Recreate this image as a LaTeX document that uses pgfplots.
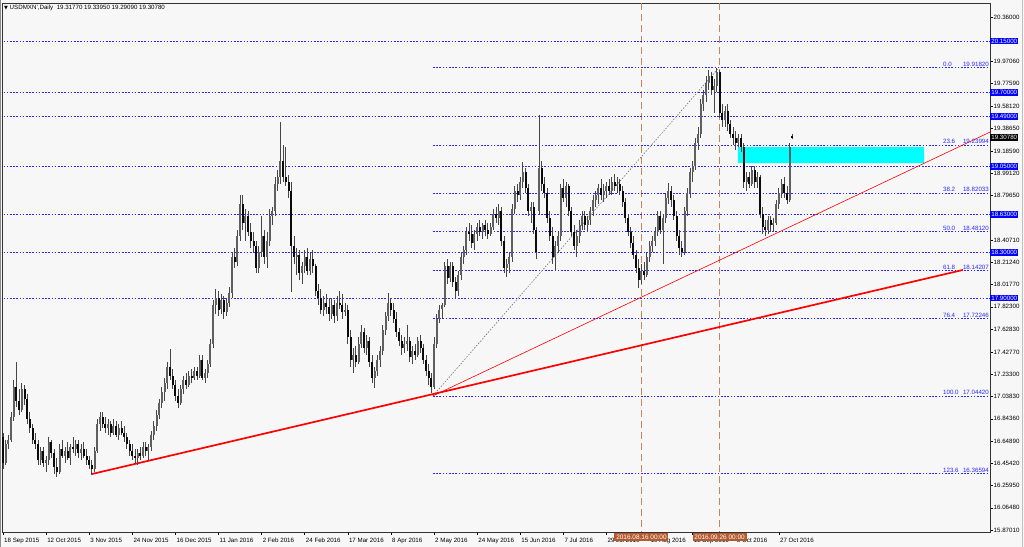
\documentclass[border=0pt]{standalone}
\usepackage{fontspec}
\setmainfont{Liberation Sans}
\newfontfamily\dejavu{DejaVu Sans}
\usepackage{pgfplots}
\usepackage{pgfplotstable}
\pgfplotsset{compat=1.18}
\definecolor{bg}{RGB}{247,247,247}
\definecolor{lvl}{RGB}{40,40,255}
\definecolor{colVline}{RGB}{200,132,92}
\definecolor{colVbox}{RGB}{180,90,45}
\definecolor{colBull}{RGB}{95,95,95}
\definecolor{colBear}{RGB}{10,10,10}
\definecolor{colWick}{RGB}{70,70,70}
\definecolor{colZone}{RGB}{0,255,255}
\definecolor{colBlueBox}{RGB}{0,0,255}
\definecolor{colRed}{RGB}{255,0,0}
\newcommand\sm{\fontsize{6.2}{7}\selectfont}

\pgfplotstableread{
o h l c
16.68 16.72 16.40 16.46
16.46 16.66 16.44 16.62
16.62 16.70 16.58 16.66
16.66 16.90 16.64 16.86
16.86 17.18 16.82 17.12
17.12 17.34 16.95 17.00
17.00 17.10 16.88 16.92
16.92 17.16 16.90 17.10
17.10 17.14 16.96 17.02
17.02 17.06 16.80 16.84
16.84 16.90 16.72 16.76
16.76 16.80 16.62 16.66
16.66 16.72 16.58 16.62
16.62 16.66 16.44 16.48
16.48 16.60 16.44 16.56
16.56 16.60 16.42 16.46
16.46 16.52 16.38 16.48
16.48 16.68 16.44 16.64
16.64 16.66 16.50 16.54
16.54 16.58 16.36 16.42
16.42 16.50 16.33 16.38
16.38 16.62 16.36 16.58
16.58 16.66 16.50 16.52
16.52 16.60 16.46 16.56
16.56 16.64 16.48 16.50
16.50 16.62 16.44 16.60
16.60 16.68 16.54 16.58
16.58 16.66 16.52 16.62
16.62 16.66 16.50 16.54
16.54 16.62 16.48 16.58
16.58 16.64 16.50 16.52
16.52 16.58 16.44 16.48
16.48 16.52 16.40 16.44
16.44 16.48 16.35 16.40
16.40 16.60 16.38 16.56
16.56 16.84 16.54 16.80
16.80 16.90 16.74 16.86
16.86 16.90 16.76 16.80
16.80 16.86 16.72 16.76
16.76 16.84 16.70 16.80
16.80 16.82 16.68 16.72
16.72 16.84 16.70 16.78
16.78 16.82 16.68 16.70
16.70 16.80 16.66 16.76
16.76 16.82 16.70 16.72
16.72 16.78 16.64 16.68
16.68 16.72 16.58 16.62
16.62 16.66 16.52 16.56
16.56 16.62 16.48 16.52
16.52 16.58 16.46 16.50
16.50 16.58 16.44 16.54
16.54 16.60 16.48 16.52
16.52 16.64 16.50 16.60
16.60 16.64 16.52 16.56
16.56 16.62 16.48 16.60
16.60 16.74 16.56 16.70
16.70 16.82 16.66 16.78
16.78 16.92 16.74 16.88
16.88 17.02 16.84 16.98
16.98 17.12 16.94 17.08
17.08 17.20 17.00 17.16
17.16 17.34 17.10 17.30
17.30 17.45 17.18 17.22
17.22 17.28 17.10 17.14
17.14 17.18 17.00 17.04
17.04 17.10 16.94 16.98
16.98 17.14 16.96 17.10
17.10 17.22 17.06 17.18
17.18 17.24 17.10 17.14
17.14 17.26 17.12 17.22
17.22 17.28 17.16 17.20
17.20 17.30 17.18 17.26
17.26 17.30 17.18 17.22
17.22 17.40 17.20 17.36
17.36 17.40 17.18 17.20
17.20 17.28 17.16 17.24
17.24 17.36 17.20 17.32
17.32 17.54 17.30 17.50
17.50 17.88 17.46 17.84
17.84 17.98 17.76 17.90
17.90 17.96 17.74 17.80
17.80 17.94 17.76 17.88
17.88 17.92 17.72 17.78
17.78 17.90 17.74 17.86
17.86 18.00 17.82 17.94
17.94 18.30 17.90 18.26
18.26 18.34 18.16 18.22
18.22 18.50 18.18 18.44
18.44 18.80 18.40 18.72
18.72 18.80 18.50 18.56
18.56 18.68 18.40 18.62
18.62 18.66 18.44 18.48
18.48 18.56 18.34 18.40
18.40 18.48 18.30 18.36
18.36 18.40 18.12 18.16
18.16 18.36 18.12 18.30
18.30 18.62 18.26 18.44
18.44 18.50 18.20 18.26
18.26 18.48 18.16 18.40
18.40 18.68 18.36 18.62
18.62 18.70 18.54 18.66
18.66 18.96 18.62 18.90
18.90 19.02 18.84 18.96
18.96 19.44 18.90 19.10
19.10 19.24 18.92 18.96
18.96 19.22 18.88 18.92
18.92 18.98 18.78 18.84
18.84 18.92 17.95 18.36
18.36 18.44 18.20 18.26
18.26 18.34 18.10 18.28
18.28 18.32 18.06 18.12
18.12 18.22 18.02 18.18
18.18 18.32 18.12 18.26
18.26 18.34 18.10 18.14
18.14 18.30 18.10 18.24
18.24 18.32 18.12 18.18
18.18 18.20 17.92 17.96
17.96 18.02 17.84 17.90
17.90 17.98 17.76 17.80
17.80 17.92 17.74 17.86
17.86 17.94 17.76 17.82
17.82 17.90 17.70 17.76
17.76 17.90 17.72 17.84
17.84 17.88 17.68 17.74
17.74 17.92 17.70 17.86
17.86 17.96 17.80 17.84
17.84 17.94 17.72 17.78
17.78 17.86 17.74 17.80
17.80 17.84 17.50 17.56
17.56 17.62 17.30 17.36
17.36 17.46 17.24 17.40
17.40 17.48 17.30 17.34
17.34 17.56 17.32 17.50
17.50 17.66 17.46 17.60
17.60 17.64 17.42 17.46
17.46 17.58 17.40 17.52
17.52 17.56 17.30 17.34
17.34 17.40 17.16 17.20
17.20 17.30 17.11 17.26
17.26 17.40 17.22 17.36
17.36 17.48 17.30 17.44
17.44 17.66 17.40 17.62
17.62 17.78 17.58 17.74
17.74 17.94 17.70 17.86
17.86 17.90 17.74 17.80
17.80 17.86 17.68 17.72
17.72 17.78 17.56 17.60
17.60 17.64 17.48 17.52
17.52 17.58 17.40 17.46
17.46 17.56 17.42 17.50
17.50 17.66 17.44 17.52
17.52 17.56 17.34 17.38
17.38 17.48 17.32 17.44
17.44 17.50 17.36 17.40
17.40 17.56 17.38 17.52
17.52 17.58 17.42 17.46
17.46 17.50 17.32 17.36
17.36 17.40 17.22 17.26
17.26 17.32 17.14 17.20
17.20 17.24 17.07 17.12
17.12 17.56 17.10 17.50
17.50 17.76 17.46 17.72
17.72 17.84 17.68 17.80
17.80 17.86 17.72 17.84
17.84 18.22 17.82 18.18
18.18 18.24 18.02 18.08
18.08 18.22 18.04 18.18
18.18 18.22 18.00 18.04
18.04 18.08 17.90 17.96
17.96 18.14 17.92 18.10
18.10 18.30 18.06 18.26
18.26 18.36 18.20 18.32
18.32 18.52 18.28 18.48
18.48 18.56 18.40 18.46
18.46 18.54 18.34 18.38
18.38 18.50 18.32 18.46
18.46 18.56 18.40 18.52
18.52 18.58 18.44 18.48
18.48 18.56 18.42 18.54
18.54 18.58 18.44 18.50
18.50 18.56 18.42 18.46
18.46 18.56 18.44 18.52
18.52 18.68 18.50 18.64
18.64 18.70 18.56 18.60
18.60 18.72 18.54 18.66
18.66 18.70 18.36 18.40
18.40 18.44 18.12 18.16
18.16 18.24 18.08 18.20
18.20 18.30 18.12 18.26
18.26 18.72 18.22 18.68
18.68 18.88 18.64 18.84
18.84 18.90 18.74 18.80
18.80 18.96 18.76 18.92
18.92 19.09 18.86 19.00
19.00 19.04 18.82 18.86
18.86 18.90 18.62 18.66
18.66 18.74 18.56 18.70
18.70 18.74 18.46 18.50
18.50 18.52 18.24 18.30
18.66 19.50 18.64 19.04
19.04 19.10 18.84 18.90
18.90 18.96 18.78 18.82
18.82 18.86 18.56 18.60
18.60 18.66 18.40 18.44
18.44 18.52 18.20 18.26
18.26 18.40 18.14 18.36
18.36 18.48 18.30 18.44
18.44 18.90 18.40 18.86
18.86 18.94 18.74 18.78
18.78 18.92 18.70 18.88
18.88 18.90 18.62 18.66
18.66 18.70 18.44 18.48
18.48 18.54 18.32 18.36
18.36 18.50 18.26 18.44
18.44 18.58 18.38 18.54
18.54 18.66 18.50 18.62
18.62 18.66 18.50 18.54
18.54 18.62 18.48 18.58
18.58 18.70 18.54 18.66
18.66 18.80 18.62 18.76
18.76 18.84 18.70 18.80
18.80 18.90 18.72 18.86
18.86 18.94 18.76 18.80
18.80 18.90 18.74 18.84
18.84 18.92 18.78 18.88
18.88 18.94 18.80 18.84
18.84 18.96 18.80 18.92
18.92 18.99 18.84 18.88
18.88 18.96 18.82 18.90
18.90 18.94 18.80 18.84
18.84 18.88 18.70 18.74
18.74 18.78 18.56 18.60
18.60 18.64 18.44 18.48
18.48 18.52 18.34 18.38
18.38 18.44 18.24 18.28
18.28 18.32 18.12 18.16
18.16 18.24 17.99 18.06
18.06 18.20 18.02 18.14
18.14 18.22 18.06 18.10
18.10 18.30 18.08 18.26
18.26 18.40 18.22 18.36
18.36 18.44 18.30 18.40
18.40 18.52 18.36 18.48
18.48 18.66 18.44 18.62
18.62 18.66 18.46 18.50
18.50 18.64 18.20 18.60
18.60 18.82 18.56 18.78
18.78 18.91 18.72 18.84
18.84 18.88 18.70 18.76
18.76 18.80 18.58 18.62
18.62 18.66 18.40 18.44
18.44 18.50 18.28 18.34
18.34 18.40 18.26 18.30
18.30 18.70 18.28 18.66
18.66 18.86 18.62 18.82
18.82 19.04 18.78 19.00
19.00 19.10 18.92 19.06
19.06 19.30 19.02 19.26
19.26 19.40 19.20 19.34
19.34 19.64 19.30 19.60
19.60 19.72 19.54 19.68
19.68 19.84 19.62 19.78
19.78 19.90 19.72 19.84
19.84 19.88 19.68 19.72
19.72 19.82 19.52 19.76
19.76 19.91 19.70 19.88
19.88 19.90 19.48 19.52
19.52 19.60 19.40 19.46
19.46 19.58 19.40 19.54
19.54 19.60 19.36 19.42
19.42 19.46 19.30 19.34
19.34 19.40 19.24 19.30
19.30 19.36 19.20 19.26
19.26 19.34 19.22 19.30
19.30 19.34 19.18 19.22
19.22 19.26 18.86 18.92
18.92 19.00 18.84 18.96
18.96 19.00 18.86 18.90
18.90 19.06 18.88 19.02
19.02 19.06 18.86 18.92
18.92 19.00 18.86 18.96
18.96 18.98 18.60 18.64
18.64 18.70 18.46 18.52
18.52 18.58 18.44 18.50
18.50 18.62 18.46 18.58
18.58 18.62 18.48 18.54
18.54 18.60 18.48 18.56
18.56 18.76 18.54 18.72
18.72 18.86 18.68 18.82
18.82 18.94 18.78 18.90
18.90 18.96 18.78 18.82
18.82 18.88 18.72 18.76
18.76 19.26 18.74 19.22
19.3177 19.3395 19.2909 19.3078
}\candles

\begin{document}
\begin{tikzpicture}
\useasboundingbox (0,0) rectangle (1024bp,547bp);
\fill[bg] (0,0) rectangle (1024bp,547bp);
\begin{axis}[
  at={(2bp,15bp)}, anchor=south west,
  scale only axis, width=988bp, height=529bp,
  xmin=-0.371, xmax=366.37, ymin=15.8526, ymax=20.4825,
  clip mode=individual,
  axis background/.style={fill=bg},
  axis line style={black!80, line width=0.7bp},
  tick align=outside, major tick length=3bp,
  tick style={black, line width=0.5bp},
  ticklabel style={font=\sm, text=black},
  xtick pos=bottom, ytick pos=right, yticklabel pos=right,
  xtick={0,16,...,288},
  xticklabels={18 Sep 2015,12 Oct 2015,3 Nov 2015,24 Nov 2015,16 Dec 2015,11 Jan 2016,2 Feb 2016,24 Feb 2016,17 Mar 2016,8 Apr 2016,2 May 2016,24 May 2016,15 Jun 2016,7 Jul 2016,29 Jul 2016,19 Aug 2016,12 Sep 2016,5 Oct 2016,27 Oct 2016},
  xticklabel style={anchor=north west, inner sep=0pt, xshift=1bp, yshift=-2.5bp},
  ytick={15.8701,16.0648,16.2595,16.4542,16.6489,16.8436,17.0383,17.2330,17.4277,17.6283,17.8230,18.0177,18.2124,18.4071,18.7965,18.9912,19.1859,19.3865,19.5812,19.7759,19.9706,20.3600},
  yticklabels={15.87010,16.06480,16.25950,16.45420,16.64890,16.84360,17.03830,17.23300,17.42770,17.62830,17.82300,18.01770,18.21240,18.40710,18.79650,18.99120,19.18590,19.38650,19.58120,19.77590,19.97060,20.36000},
  yticklabel style={anchor=west, inner sep=0pt, xshift=0.5bp},
  every axis plot/.append style={forget plot},
]
% vertical date lines
\addplot[colVline, mark=none, line width=1.5bp, dash pattern=on 7bp off 4bp] coordinates {(237,15.80) (237,20.50)};
\addplot[colVline, mark=none, line width=1.5bp, dash pattern=on 7bp off 4bp] coordinates {(266,15.80) (266,20.50)};
% horizontal support/resistance levels
\foreach \v in {20.15,19.70,19.49,19.05,18.63,18.30,17.90}{
  \edef\tmp{\noexpand\addplot[lvl, mark=none, line width=0.6bp, dash pattern=on 1.6bp off 1.6bp] coordinates {(-1,\v) (367,\v)};}\tmp
}
% fibonacci levels
\foreach \v in {19.91820,19.23994,18.82033,18.48120,18.14207,17.72246,17.04420,16.36594}{
  \edef\tmp{\noexpand\addplot[lvl, mark=none, line width=0.6bp, dash pattern=on 1.6bp off 1.6bp] coordinates {(159.6,\v) (367,\v)};}\tmp
}
% fib diagonal
\addplot[black!55, mark=none, line width=0.6bp, dash pattern=on 1.5bp off 1.5bp] coordinates {(159.6,17.0442) (265.8,19.9182)};
% zone
\addplot[fill=colZone, draw=none, mark=none] coordinates {(272.8,19.082) (341.9,19.082) (341.9,19.222) (272.8,19.222) (272.8,19.082)};
% trend lines
\addplot[draw=colRed, mark=none, line width=1.7bp] coordinates {(33,16.36) (356.3,18.146)};
\addplot[draw=colRed, mark=none, line width=0.6bp] coordinates {(159.6,17.044) (366.4,19.353)};
% candles: wicks
\addplot[draw=none, mark=none, error bars/.cd, y dir=both, y explicit, error mark=none,
  error bar style={solid, line width=0.9bp, draw=colWick}]
  table[x expr=\coordindex, y expr=(\thisrow{h}+\thisrow{l})/2, y error expr=(\thisrow{h}-\thisrow{l})/2] {\candles};
% bodies up
\addplot[draw=none, mark=none, restrict expr to domain={\thisrow{c}-\thisrow{o}}{0:10},
  error bars/.cd, y dir=both, y explicit, error mark=none,
  error bar style={solid, line width=2.0bp, draw=colBull}]
  table[x expr=\coordindex, y expr=(\thisrow{o}+\thisrow{c})/2, y error expr=abs(\thisrow{c}-\thisrow{o})/2] {\candles};
% bodies down
\addplot[draw=none, mark=none, restrict expr to domain={\thisrow{c}-\thisrow{o}}{-10:0},
  error bars/.cd, y dir=both, y explicit, error mark=none,
  error bar style={solid, line width=2.0bp, draw=colBear}]
  table[x expr=\coordindex, y expr=(\thisrow{o}+\thisrow{c})/2, y error expr=abs(\thisrow{c}-\thisrow{o})/2] {\candles};
% fib labels
\foreach \v/\p/\lab in {19.91820/0.0/19.91820,19.23994/23.6/19.23994,18.82033/38.2/18.82033,18.48120/50.0/18.48120,18.14207/61.8/18.14207,17.72246/76.4/17.72246,17.04420/100.0/17.04420,16.36594/123.6/16.36594}{
  \edef\tmp{\noexpand\node[font=\noexpand\sm, text=lvl, anchor=south west, inner sep=0pt, yshift=0.8bp] at (axis cs:348.9,\v) {\p};
  \noexpand\node[font=\noexpand\sm, text=lvl, anchor=south east, inner sep=0pt, yshift=0.8bp, xshift=-1bp] at (axis cs:366.37,\v) {\lab};}\tmp
}
% right boxed labels
\foreach \v/\lab in {20.15/20.15000,19.70/19.70000,19.49/19.49000,19.05/19.05000,18.63/18.63000,18.30/18.30000,17.90/17.90000}{
  \edef\tmp{\noexpand\node[font=\noexpand\sm, fill=colBlueBox, text=white, anchor=west, inner xsep=1.2bp, inner ysep=1.2bp, minimum width=28bp] at (axis cs:366.37,\v) {\lab};}\tmp
}
\node[font=\sm, fill=black, text=white, anchor=west, inner xsep=1.2bp, inner ysep=1.2bp, minimum width=28bp] at (axis cs:366.37,19.3078) {19.30780};
% date boxes
\node[font=\fontsize{6.5}{7.5}\selectfont, fill=colVbox, text=white, inner xsep=1.8bp, inner ysep=2bp, anchor=north] at (axis cs:237,15.8526) [yshift=-0.5bp] {2016.08.16 00:00};
\node[font=\fontsize{6.5}{7.5}\selectfont, fill=colVbox, text=white, inner xsep=1.8bp, inner ysep=2bp, anchor=north] at (axis cs:266,15.8526) [yshift=-0.5bp] {2016.09.26 00:00};
\end{axis}
\node[font=\sm, anchor=west, inner sep=0pt] at (4bp,539bp) {{\dejavu\fontsize{5}{6}\selectfont▼}\ USDMXN',Daily\ \ 19.31770 19.33950 19.29090 19.30780};
\draw[black!45, line width=1bp] (0.5bp,0) -- (0.5bp,547bp);
\draw[black!25, line width=1bp] (1022.5bp,0) -- (1022.5bp,547bp);
\end{tikzpicture}
\end{document}
